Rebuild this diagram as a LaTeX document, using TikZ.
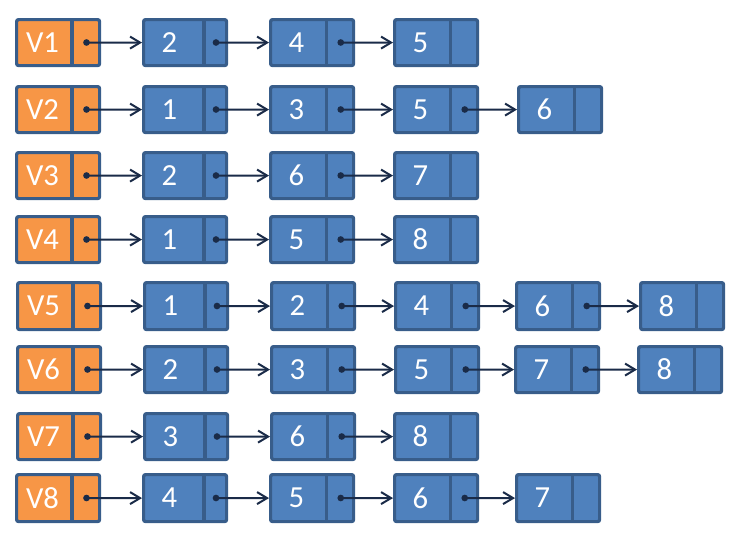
\documentclass[tikz,border=0pt]{standalone}
\usepackage{fontspec}
\setmainfont{Carlito}
\usetikzlibrary{arrows.meta}
\definecolor{vorange}{HTML}{F79646}
\definecolor{vblue}{HTML}{4F81BD}
\definecolor{vborder}{HTML}{385D8A}
\definecolor{vptr}{HTML}{1A2B48}
\tikzset{
  cellbox/.style={draw=vborder, line width=2.4pt, rounded corners=1.5pt, inner sep=0pt, minimum width=62.25pt},
  headcell/.style={fill=vorange},
  listcell/.style={fill=vblue},
  celllabel/.style={text=white, font=\fontsize{23}{26}\selectfont, inner sep=0pt},
  divider/.style={draw=vborder, line width=2.4pt},
  ptr/.style={draw=vptr, line width=1.5pt, -{Straight Barb[length=7.5pt,width=9pt,line width=1.5pt]}},
  ptrdot/.style={fill=vptr},
}
\newcommand\blk[7]{%
  \node[cellbox,#7,anchor=north west,minimum height={(#4-#3-3)*0.75pt}] (#1) at (#2,#3) {};
  \draw[divider] ({#2+#5},{#3+1.5}) -- ({#2+#5},{#4-1.5});
  \node[celllabel] (#1t) at ({#2+27.5},{(#3+#4)/2}) {#6};
  \coordinate (#1d) at ({#2+(#5+86)/2},{(#3+#4)/2});
}
\newcommand\lnk[2]{\fill[ptrdot] (#1d) circle (2.5pt); \draw[ptr] (#1d) -- (#2.west);}
\begin{document}
\begin{tikzpicture}[x=0.75pt,y=-0.75pt]
\useasboundingbox (0,0) rectangle (740,546);
% row 1
\blk{a1}{15}{18}{67}{57}{V1}{headcell}
\blk{a2}{142}{18}{67}{62}{2}{listcell}
\blk{a3}{269}{18}{67}{57.5}{4}{listcell}
\blk{a4}{393}{18}{67}{57.5}{5}{listcell}
\lnk{a1}{a2}\lnk{a2}{a3}\lnk{a3}{a4}
% row 2
\blk{b1}{15}{85}{134}{57}{V2}{headcell}
\blk{b2}{142}{85}{134}{62}{1}{listcell}
\blk{b3}{269}{85}{134}{57.5}{3}{listcell}
\blk{b4}{393}{85}{134}{57.5}{5}{listcell}
\blk{b5}{517}{85}{134}{57.5}{6}{listcell}
\lnk{b1}{b2}\lnk{b2}{b3}\lnk{b3}{b4}\lnk{b4}{b5}
% row 3
\blk{c1}{15}{151}{200}{57}{V3}{headcell}
\blk{c2}{142}{151}{200}{62}{2}{listcell}
\blk{c3}{269}{151}{200}{57.5}{6}{listcell}
\blk{c4}{393}{151}{200}{57.5}{7}{listcell}
\lnk{c1}{c2}\lnk{c2}{c3}\lnk{c3}{c4}
% row 4
\blk{d1}{15}{215}{264}{57}{V4}{headcell}
\blk{d2}{142}{215}{264}{62}{1}{listcell}
\blk{d3}{269}{215}{264}{57.5}{5}{listcell}
\blk{d4}{393}{215}{264}{57.5}{8}{listcell}
\lnk{d1}{d2}\lnk{d2}{d3}\lnk{d3}{d4}
% row 5
\blk{e1}{16}{281}{331}{57}{V5}{headcell}
\blk{e2}{143}{281}{331}{62}{1}{listcell}
\blk{e3}{270}{281}{331}{57.5}{2}{listcell}
\blk{e4}{394}{281}{331}{57.5}{4}{listcell}
\blk{e5}{515}{281}{331}{57.5}{6}{listcell}
\blk{e6}{639}{281}{331}{57.5}{8}{listcell}
\lnk{e1}{e2}\lnk{e2}{e3}\lnk{e3}{e4}\lnk{e4}{e5}\lnk{e5}{e6}
% row 6
\blk{f1}{16}{345}{394}{57}{V6}{headcell}
\blk{f2}{143}{345}{394}{62}{2}{listcell}
\blk{f3}{270}{345}{394}{57.5}{3}{listcell}
\blk{f4}{394}{345}{394}{57.5}{5}{listcell}
\blk{f5}{514}{345}{394}{57.5}{7}{listcell}
\blk{f6}{637}{345}{394}{57.5}{8}{listcell}
\lnk{f1}{f2}\lnk{f2}{f3}\lnk{f3}{f4}\lnk{f4}{f5}\lnk{f5}{f6}
% row 7
\blk{g1}{16}{412}{461}{57}{V7}{headcell}
\blk{g2}{143}{412}{461}{62}{3}{listcell}
\blk{g3}{270}{412}{461}{57.5}{6}{listcell}
\blk{g4}{393}{412}{461}{57.5}{8}{listcell}
\lnk{g1}{g2}\lnk{g2}{g3}\lnk{g3}{g4}
% row 8
\blk{h1}{15}{473}{523}{57}{V8}{headcell}
\blk{h2}{142}{473}{523}{62}{4}{listcell}
\blk{h3}{269}{473}{523}{57.5}{5}{listcell}
\blk{h4}{393}{473}{523}{57.5}{6}{listcell}
\blk{h5}{515}{473}{523}{57.5}{7}{listcell}
\lnk{h1}{h2}\lnk{h2}{h3}\lnk{h3}{h4}\lnk{h4}{h5}
\end{tikzpicture}
\end{document}
